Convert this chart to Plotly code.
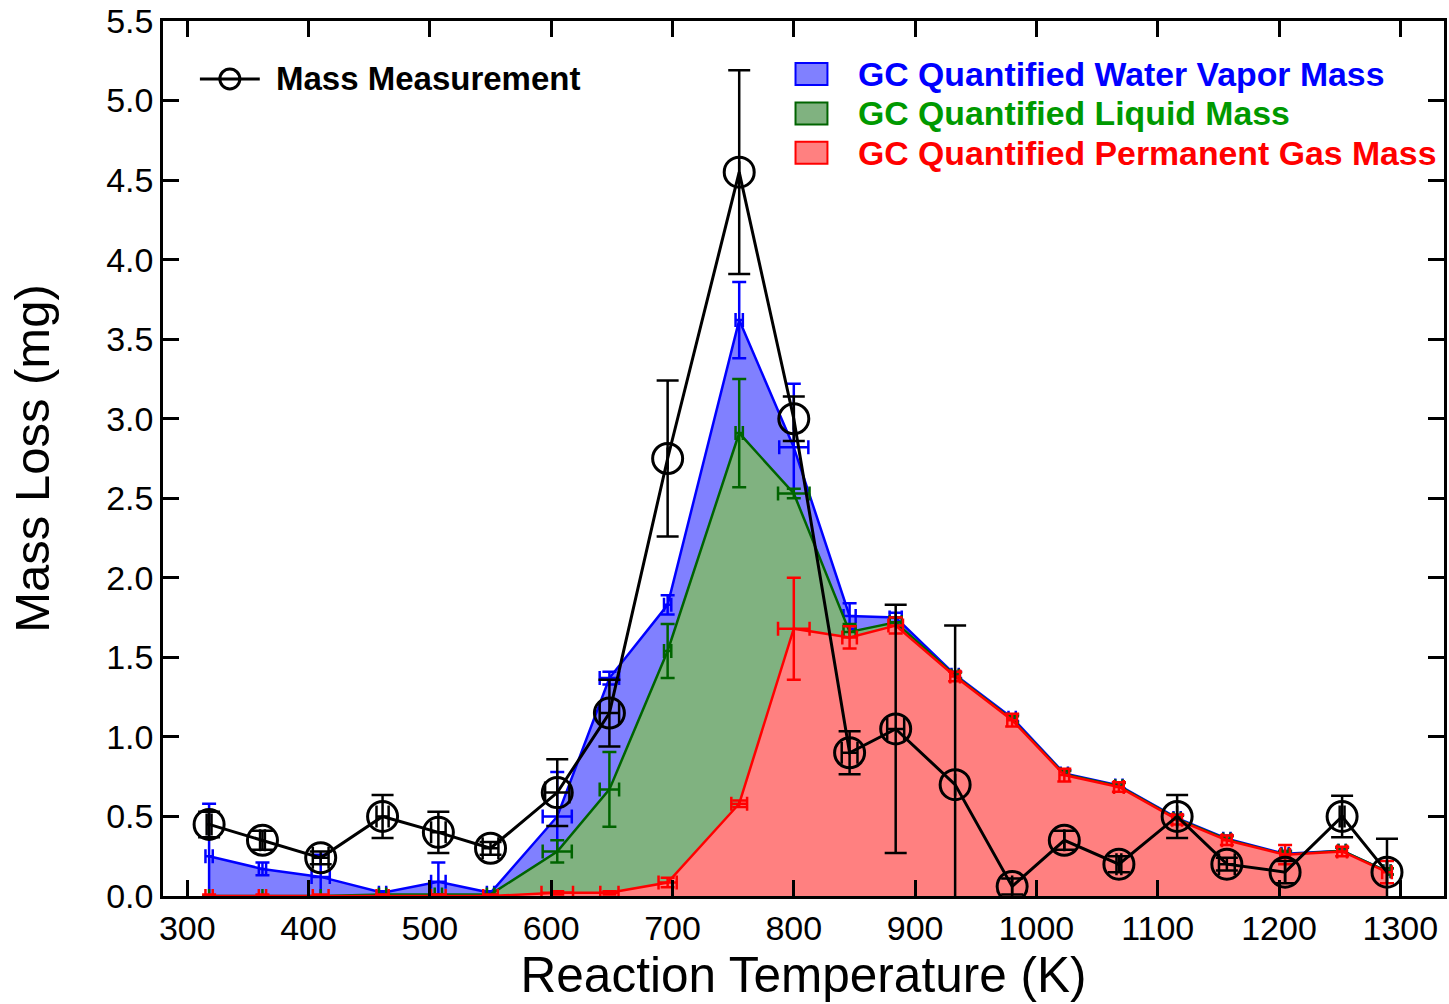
import plotly.graph_objects as go

# ---------------- data ----------------
temperature = [318, 362, 410, 461, 507, 550, 605, 648, 696, 755, 800, 846,
               884, 933, 980, 1023, 1068, 1116, 1157, 1205, 1252, 1289]

mass_loss = [0.45, 0.35, 0.24, 0.50, 0.40, 0.30, 0.65, 1.15, 2.75, 4.55, 3.00, 0.90,
             1.05, 0.70, 0.06, 0.35, 0.20, 0.50, 0.20, 0.15, 0.50, 0.15]
mass_yerr = [0.08, 0.06, 0.04, 0.135, 0.13, 0.04, 0.21, 0.21, 0.49, 0.64, 0.14, 0.135,
             0.78, 1.00, 0.05, 0.06, 0.05, 0.135, 0.04, 0.07, 0.13, 0.21]
mass_xerr = [2, 2, 6.5, 5, 6, 6.5, 10, 8, 0, 0, 0, 6.5,
             7, 0, 0, 0, 2, 0, 6.5, 0, 2, 0]

# cumulative (stacked) GC quantified masses
water_top = [0.25, 0.17, 0.12, 0.02, 0.09, 0.02, 0.50, 1.37, 1.83, 3.62, 2.82, 1.76,
             1.75, 1.39, 1.12, 0.77, 0.695, 0.49, 0.36, 0.265, 0.285, 0.155]
water_yerr = [0.33, 0.04, 0.14, 0.01, 0.12, 0.01, 0.28, 0.04, 0.06, 0.24, 0.40, 0.08,
              0.03, 0.02, 0.02, 0.02, 0.02, 0.02, 0.02, 0.02, 0.02, 0.02]
water_xerr = [3, 3, 7.5, 3, 6, 3, 12, 8, 3, 3, 12, 5, 5, 3, 3, 3, 3, 3, 3, 3, 3, 3]

liquid_top = [0.0, 0.0, 0.0, 0.01, 0.01, 0.01, 0.28, 0.67, 1.54, 2.91, 2.53, 1.66,
              1.72, 1.385, 1.11, 0.765, 0.69, 0.485, 0.355, 0.26, 0.285, 0.155]
liquid_yerr = [0.0, 0.0, 0.0, 0.0, 0.0, 0.0, 0.07, 0.235, 0.17, 0.34, 0.03, 0.05,
               0.03, 0.02, 0.02, 0.02, 0.02, 0.02, 0.02, 0.02, 0.02, 0.02]
liquid_xerr = [0, 0, 0, 3, 3, 3, 12, 8, 3, 3, 13, 5, 5, 3, 3, 3, 3, 3, 3, 3, 3, 3]

gas_top = [0.0, 0.0, 0.0, 0.0, 0.0, 0.0, 0.02, 0.02, 0.085, 0.58, 1.68, 1.625,
           1.70, 1.38, 1.105, 0.76, 0.685, 0.48, 0.35, 0.26, 0.28, 0.15]
gas_yerr = [0.01, 0.01, 0.01, 0.01, 0.01, 0.01, 0.01, 0.01, 0.03, 0.02, 0.32, 0.07,
            0.05, 0.03, 0.04, 0.04, 0.03, 0.03, 0.03, 0.06, 0.03, 0.07]
gas_xerr = [3, 3, 6.5, 5, 6, 6, 13, 7.5, 7.5, 6.5, 13, 6, 6, 4, 4, 4, 4, 4, 4, 4, 4, 4]

x_ticks = [300, 400, 500, 600, 700, 800, 900, 1000, 1100, 1200, 1300]
y_ticks = [0.0, 0.5, 1.0, 1.5, 2.0, 2.5, 3.0, 3.5, 4.0, 4.5, 5.0, 5.5]

legend_mass = "Mass Measurement"
legend_gc = ["GC Quantified Water Vapor Mass", "GC Quantified Liquid Mass",
             "GC Quantified Permanent Gas Mass"]

# ---------------- styling ----------------
FONT = "Liberation Sans, Arial, sans-serif"
BLUE, BLUE_FILL = "#0000FF", "rgb(128,128,255)"
GREEN, GREEN_FILL = "#006400", "rgb(128,178,128)"
RED, RED_FILL = "#FF0000", "rgb(255,128,128)"
GC_TEXT = ["#0000FF", "#009900", "#FF0000"]

W, H = 1449, 1004
L, R, T, B = 163, 1447, 20, 896


def px_x(p):
    return (p - L) / (R - L)


def px_y(p):
    return (B - p) / (B - T)


fig = go.Figure()


def gc_trace(y, yerr, xerr, line_col, fill_col, name):
    return go.Scatter(
        x=temperature, y=y, mode="lines", name=name,
        line=dict(color=line_col, width=2.5),
        fill="tozeroy", fillcolor=fill_col,
        error_y=dict(type="data", array=yerr, color=line_col, thickness=2.5, width=7),
        error_x=dict(type="data", array=xerr, color=line_col, thickness=2.5, width=7),
        showlegend=False,
    )


# stacked tops drawn from the back (total) to the front (permanent gas)
fig.add_trace(gc_trace(water_top, water_yerr, water_xerr, BLUE, BLUE_FILL, legend_gc[0]))
fig.add_trace(gc_trace(liquid_top, liquid_yerr, liquid_xerr, GREEN, GREEN_FILL, legend_gc[1]))
fig.add_trace(gc_trace(gas_top, gas_yerr, gas_xerr, RED, RED_FILL, legend_gc[2]))

fig.add_trace(go.Scatter(
    x=temperature, y=mass_loss, mode="lines+markers", name=legend_mass,
    line=dict(color="black", width=3),
    marker=dict(symbol="circle-open", size=30, color="black", line=dict(width=3)),
    error_y=dict(type="data", array=mass_yerr, color="black", thickness=2.5, width=11),
    error_x=dict(type="data", array=mass_xerr, color="black", thickness=2.5, width=11),
    showlegend=False,
))

# ---------------- hand-drawn legends ----------------
shapes = []
annotations = []

# Mass measurement legend
shapes.append(dict(type="line", xref="paper", yref="paper",
                   x0=px_x(200), x1=px_x(260), y0=px_y(78), y1=px_y(78),
                   line=dict(color="black", width=3)))
shapes.append(dict(type="circle", xref="paper", yref="paper",
                   x0=px_x(220), x1=px_x(240), y0=px_y(88), y1=px_y(68),
                   line=dict(color="black", width=3), fillcolor="rgba(0,0,0,0)"))
annotations.append(dict(text="<b>" + legend_mass + "</b>", xref="paper", yref="paper",
                        x=px_x(274), y=px_y(78), xanchor="left", yanchor="middle",
                        showarrow=False, font=dict(family=FONT, size=33, color="black")))

# GC legend
gc_cols = [(BLUE, BLUE_FILL), (GREEN, GREEN_FILL), (RED, RED_FILL)]
for i, (name, (lc, fc), tc) in enumerate(zip(legend_gc, gc_cols, GC_TEXT)):
    cy = 73 + i * 39.5
    shapes.append(dict(type="rect", xref="paper", yref="paper",
                       x0=px_x(797), x1=px_x(829), y0=px_y(cy + 11), y1=px_y(cy - 11),
                       line=dict(color=lc, width=2), fillcolor=fc))
    annotations.append(dict(text="<b>" + name + "</b>", xref="paper", yref="paper",
                            x=px_x(858), y=px_y(cy), xanchor="left", yanchor="middle",
                            showarrow=False, font=dict(family=FONT, size=33.8, color=tc)))

axis_common = dict(
    showline=True, linecolor="black", linewidth=2.5, mirror="ticks",
    ticks="inside", ticklen=16, tickwidth=2.5, tickcolor="black",
    showgrid=False, zeroline=False,
    tickfont=dict(family=FONT, size=34, color="black"),
)

fig.update_layout(
    width=W, height=H,
    margin=dict(l=L, r=W - R, t=T, b=H - B, pad=0),
    paper_bgcolor="white", plot_bgcolor="white",
    showlegend=False,
    shapes=shapes, annotations=annotations,
    xaxis=dict(range=[280, 1336], tickvals=x_ticks,
               ticktext=[str(v) for v in x_ticks],
               title=dict(text="Reaction Temperature (K)", standoff=8,
                          font=dict(family=FONT, size=49.5, color="black")),
               **axis_common),
    yaxis=dict(range=[0, 5.5], tickvals=y_ticks,
               ticktext=[f"{v:.1f}" for v in y_ticks],
               title=dict(text="Mass Loss (mg)", standoff=42,
                          font=dict(family=FONT, size=49, color="black")),
               **axis_common),
)

fig.write_html("out.html")
